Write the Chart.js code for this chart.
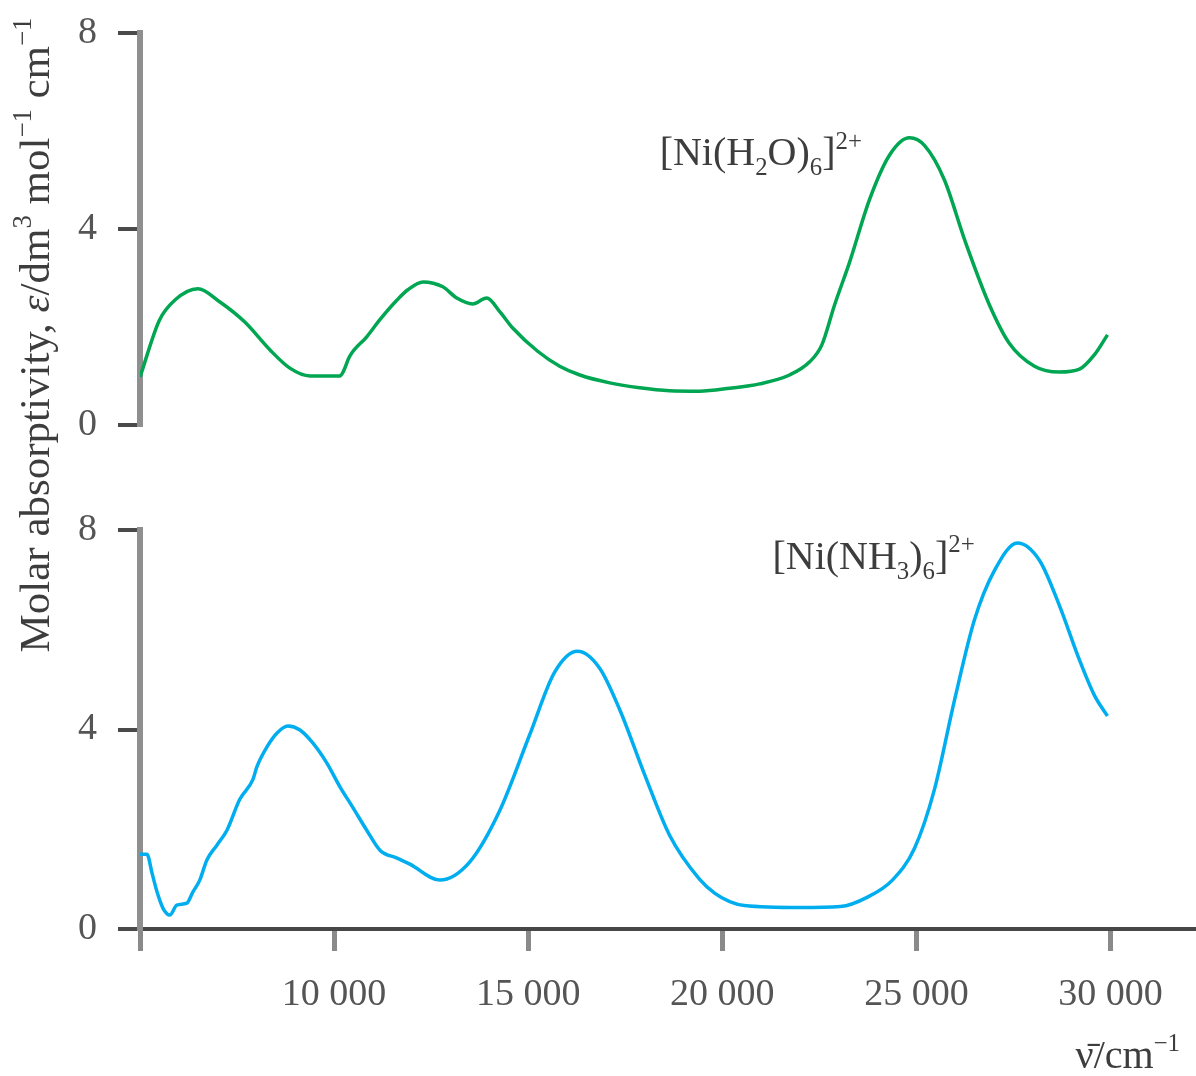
<!DOCTYPE html>
<html>
<head>
<meta charset="utf-8">
<script src="https://cdn.jsdelivr.net/npm/chart.js@4.4.1/dist/chart.umd.min.js"></script>
<style>
  html, body { margin: 0; padding: 0; background: #fff; }
  #wrap { width: 1196px; height: 1076px; position: relative; }
</style>
</head>
<body>
<div id="wrap"><canvas id="spectra" width="1196" height="1076"></canvas></div>
<script>
// wavenumber (cm-1) and molar absorptivity
const h2oWavenumber = [5000, 5500, 5900, 6490, 7060, 7700, 8350, 8860, 9375, 10150, 10230, 10400, 10840, 11180, 11620, 11900, 12290, 12800, 13160, 13570, 13930, 14270, 14600, 15250, 15810, 16330, 17100, 17870, 18640, 19410, 20190, 20960, 21730, 22250, 22560, 22890, 23280, 23790, 24300, 24820, 25210, 25720, 26240, 26880, 27390, 28040, 28680, 29200, 29580, 29920];
const h2oEpsilon = [0.98, 2.14, 2.55, 2.78, 2.51, 2.1, 1.53, 1.16, 1.0, 1.0, 1.08, 1.4, 1.8, 2.15, 2.55, 2.76, 2.92, 2.82, 2.59, 2.47, 2.59, 2.31, 1.98, 1.5, 1.2, 1.02, 0.86, 0.76, 0.7, 0.69, 0.75, 0.84, 1.02, 1.29, 1.63, 2.45, 3.33, 4.6, 5.5, 5.86, 5.7, 5.0, 3.78, 2.45, 1.67, 1.2, 1.08, 1.14, 1.43, 1.84];

const nh3Wavenumber = [5000, 5180, 5310, 5440, 5590, 5770, 5950, 6210, 6360, 6540, 6720, 6980, 7240, 7570, 7910, 8010, 8270, 8530, 8810, 9120, 9450, 9810, 10150, 10480, 10840, 11180, 11620, 11950, 12720, 13490, 14270, 15040, 15680, 16270, 16840, 17360, 18000, 18640, 19410, 19800, 20190, 20570, 21990, 23040, 23740, 24380, 24950, 25460, 25980, 26490, 27010, 27600, 28170, 28680, 29200, 29580, 29920];
const nh3Epsilon = [1.5, 1.5, 1.12, 0.74, 0.42, 0.28, 0.48, 0.52, 0.74, 0.98, 1.38, 1.68, 1.98, 2.6, 3.0, 3.25, 3.65, 3.93, 4.07, 3.99, 3.73, 3.33, 2.85, 2.44, 1.98, 1.58, 1.42, 1.3, 0.98, 1.34, 2.38, 3.9, 5.15, 5.57, 5.23, 4.39, 3.09, 1.88, 1.0, 0.72, 0.55, 0.47, 0.43, 0.45, 0.64, 0.98, 1.62, 2.79, 4.59, 6.19, 7.19, 7.74, 7.39, 6.49, 5.39, 4.69, 4.27];

const xTicks = [5000, 10000, 15000, 20000, 25000, 30000];
const yTicks = [0, 4, 8];

// compound labels: anchor (wavenumber, epsilon) and text pieces
const h2oLabelAt = [18385, 5.3];
const h2oLabel = [['[Ni(H', ''], ['2', 'sub'], ['O)', ''], ['6', 'sub'], [']', ''], ['2+', 'sup']];
const nh3LabelAt = [21290, 7.22];
const nh3Label = [['[Ni(NH', ''], ['3', 'sub'], [')', ''], ['6', 'sub'], [']', ''], ['2+', 'sup']];

const yTitle = [['Molar absorptivity, ', ''], ['\u03b5', 'it'], ['/dm', ''], ['3', 'sup'], [' mol', ''], ['\u22121', 'sup'], [' cm', ''], ['\u22121', 'sup']];
const xTitle = [['\u03bd\u0304/cm', ''], ['\u22121', 'sup']];

const serif = "'Liberation Serif', 'Times New Roman', serif";
const tickFont = { family: serif, size: 38 };

function toPoints(xs, ys) {
  return xs.map((x, i) => ({ x: x, y: ys[i] }));
}

// draw text with sub/superscripts, returns width
function drawRich(ctx, parts, x, y, size, dry) {
  let cx = x;
  for (const [text, kind] of parts) {
    const small = kind === 'sub' || kind === 'sup';
    const fs = small ? size * 0.62 : size;
    ctx.font = (kind === 'it' ? 'italic ' : '') + fs + 'px ' + serif;
    const dy = kind === 'sub' ? size * 0.25 : (kind === 'sup' ? -size * 0.42 : 0);
    if (!dry) ctx.fillText(text, cx, y + dy);
    cx += ctx.measureText(text).width;
  }
  return cx - x;
}

const textPlugin = {
  id: 'texts',
  afterDraw(chart) {
    const ctx = chart.ctx;
    const s = chart.scales;
    ctx.save();
    ctx.fillStyle = '#3d3d3d';
    ctx.textBaseline = 'alphabetic';
    ctx.textAlign = 'left';

    drawRich(ctx, h2oLabel, s.x.getPixelForValue(h2oLabelAt[0]), s.yTop.getPixelForValue(h2oLabelAt[1]), 40);
    drawRich(ctx, nh3Label, s.x.getPixelForValue(nh3LabelAt[0]), s.yBot.getPixelForValue(nh3LabelAt[1]), 40);

    // x axis title, right aligned
    const xw = drawRich(ctx, xTitle, 0, 0, 40, true);
    drawRich(ctx, xTitle, chart.chartArea.right - 16 - xw, s.x.bottom - 8, 40);

    // y axis title spanning both panels
    const yw = drawRich(ctx, yTitle, 0, 0, 43, true);
    ctx.translate(49, chart.chartArea.top + 302);
    ctx.rotate(-Math.PI / 2);
    drawRich(ctx, yTitle, -yw / 2, 0, 43);
    ctx.restore();
  }
};

function yAxis(weight, stackWeight) {
  return {
    type: 'linear',
    position: 'left',
    stack: 'panels',
    stackWeight: stackWeight,
    weight: weight,
    min: 0,
    max: 8,
    afterBuildTicks: sc => { sc.ticks = yTicks.map(v => ({ value: v })); },
    afterFit: sc => { sc.width = 140; sc.paddingTop = 0; sc.paddingBottom = 0; },
    ticks: { font: tickFont, color: '#555', padding: 21 },
    grid: { drawOnChartArea: false, drawTicks: true, tickLength: 22, lineWidth: 4, color: '#4a4a4a' },
    border: { color: '#8f8f8f', width: 6 }
  };
}

const ctx = document.getElementById('spectra').getContext('2d');
const chart = new Chart(ctx, {
  type: 'line',
  data: {
    datasets: [{
      label: 'Ni(H2O)6',
      data: toPoints(h2oWavenumber, h2oEpsilon),
      yAxisID: 'yTop',
      borderColor: '#00a651',
      borderWidth: 3.5,
      pointRadius: 0,
      cubicInterpolationMode: 'monotone'
    }, {
      label: 'Ni(NH3)6',
      data: toPoints(nh3Wavenumber, nh3Epsilon),
      yAxisID: 'yBot',
      borderColor: '#00aeef',
      borderWidth: 3.5,
      pointRadius: 0,
      cubicInterpolationMode: 'monotone'
    }]
  },
  options: {
    responsive: false,
    animation: false,
    devicePixelRatio: 1,
    layout: { padding: { top: 33, left: 0, right: 0, bottom: 0 } },
    plugins: { legend: { display: false }, tooltip: { enabled: false } },
    scales: {
      x: {
        type: 'linear',
        position: 'bottom',
        min: 5000,
        max: 32200,
        afterBuildTicks: sc => { sc.ticks = xTicks.map(v => ({ value: v })); },
        afterFit: sc => { sc.height = 147; sc.paddingLeft = 0; sc.paddingRight = 0; },
        ticks: {
          font: tickFont,
          color: '#555',
          padding: 21,
          maxRotation: 0,
          autoSkip: false,
          callback: v => v === 5000 ? '' : String(v / 1000) + ' 000'
        },
        grid: { drawOnChartArea: false, drawTicks: true, tickLength: 22, lineWidth: 5, color: '#8a8a8a' },
        border: { color: '#474747', width: 4 }
      },
      yTop: yAxis(3, 392),
      yGap: {
        type: 'linear',
        position: 'left',
        stack: 'panels',
        stackWeight: 105,
        weight: 2,
        afterFit: sc => { sc.width = 140; sc.paddingTop = 0; sc.paddingBottom = 0; },
        ticks: { display: false },
        grid: { display: false },
        border: { display: false }
      },
      yBot: yAxis(1, 399)
    }
  },
  plugins: [textPlugin]
});
</script>
</body>
</html>
